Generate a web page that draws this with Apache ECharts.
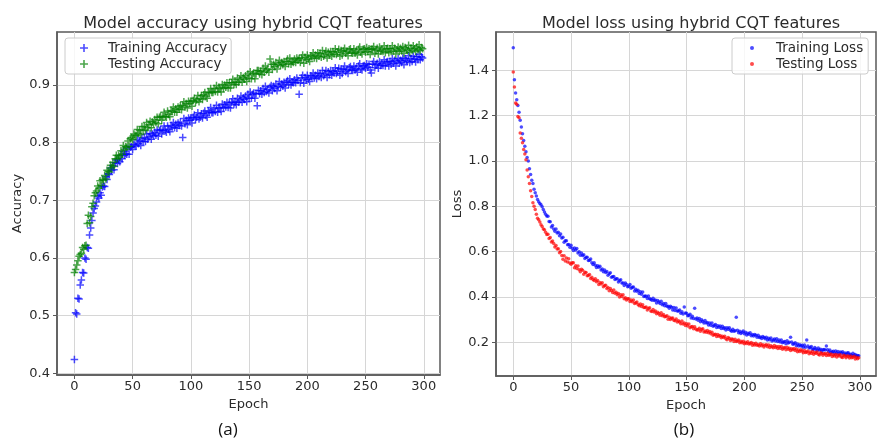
<!DOCTYPE html>
<html>
<head>
<meta charset="utf-8">
<script src="https://cdn.jsdelivr.net/npm/echarts@6/dist/echarts.min.js"></script>
<style>
html, body { margin: 0; padding: 0; background: #fff; }
#chart { width: 877px; height: 440px; }
</style>
</head>
<body>
<div id="chart"></div>
<script>
// values, one per epoch (0..299)
const trainAcc = [
  0.424, 0.505, 0.503, 0.530, 0.529, 0.553, 0.562, 0.575, 0.574, 0.600,
  0.598, 0.618, 0.617, 0.640, 0.652, 0.665, 0.678, 0.686, 0.690, 0.697,
  0.707, 0.704, 0.713, 0.709, 0.723, 0.725, 0.724, 0.741, 0.736, 0.746,
  0.745, 0.756, 0.752, 0.760, 0.753, 0.765, 0.770, 0.764, 0.770, 0.767,
  0.778, 0.772, 0.785, 0.778, 0.781, 0.780, 0.790, 0.780, 0.792, 0.793,
  0.788, 0.797, 0.796, 0.794, 0.805, 0.798, 0.803, 0.795, 0.808, 0.802,
  0.808, 0.802, 0.815, 0.806, 0.810, 0.816, 0.806, 0.815, 0.812, 0.818,
  0.813, 0.822, 0.811, 0.821, 0.823, 0.815, 0.821, 0.829, 0.821, 0.818,
  0.829, 0.823, 0.819, 0.830, 0.827, 0.835, 0.826, 0.832, 0.825, 0.834,
  0.830, 0.836, 0.829, 0.809, 0.842, 0.833, 0.839, 0.831, 0.843, 0.839,
  0.843, 0.834, 0.844, 0.848, 0.840, 0.844, 0.852, 0.841, 0.844, 0.850,
  0.843, 0.851, 0.855, 0.847, 0.844, 0.855, 0.853, 0.861, 0.852, 0.852,
  0.859, 0.854, 0.865, 0.853, 0.861, 0.860, 0.854, 0.867, 0.860, 0.866,
  0.862, 0.870, 0.861, 0.869, 0.860, 0.870, 0.876, 0.867, 0.870, 0.866,
  0.877, 0.870, 0.874, 0.881, 0.870, 0.878, 0.875, 0.881, 0.871, 0.884,
  0.877, 0.888, 0.877, 0.884, 0.886, 0.877, 0.885, 0.864, 0.891, 0.885,
  0.890, 0.884, 0.894, 0.887, 0.898, 0.889, 0.892, 0.886, 0.896, 0.899,
  0.890, 0.898, 0.894, 0.902, 0.890, 0.898, 0.906, 0.896, 0.902, 0.898,
  0.905, 0.895, 0.905, 0.908, 0.901, 0.911, 0.900, 0.905, 0.904, 0.909,
  0.904, 0.912, 0.908, 0.884, 0.904, 0.912, 0.917, 0.903, 0.913, 0.909,
  0.917, 0.910, 0.906, 0.916, 0.914, 0.921, 0.912, 0.917, 0.911, 0.921,
  0.915, 0.920, 0.913, 0.925, 0.916, 0.919, 0.925, 0.913, 0.923, 0.918,
  0.925, 0.917, 0.924, 0.921, 0.930, 0.920, 0.924, 0.929, 0.917, 0.928,
  0.920, 0.927, 0.933, 0.923, 0.926, 0.920, 0.930, 0.932, 0.926, 0.925,
  0.933, 0.926, 0.929, 0.922, 0.933, 0.937, 0.928, 0.926, 0.933, 0.934,
  0.929, 0.937, 0.931, 0.936, 0.926, 0.921, 0.936, 0.941, 0.930, 0.935,
  0.938, 0.929, 0.941, 0.934, 0.937, 0.934, 0.944, 0.933, 0.940, 0.941,
  0.933, 0.941, 0.936, 0.946, 0.938, 0.943, 0.933, 0.941, 0.946, 0.938,
  0.943, 0.939, 0.947, 0.935, 0.946, 0.943, 0.941, 0.951, 0.939, 0.946,
  0.941, 0.950, 0.945, 0.940, 0.949, 0.944, 0.953, 0.944, 0.949, 0.947
]
const testAcc = [
  0.575, 0.580, 0.588, 0.595, 0.603, 0.606, 0.608, 0.618, 0.615, 0.621,
  0.622, 0.660, 0.674, 0.661, 0.672, 0.689, 0.695, 0.708, 0.713, 0.716,
  0.725, 0.721, 0.734, 0.726, 0.736, 0.735, 0.743, 0.737, 0.752, 0.750,
  0.749, 0.761, 0.757, 0.766, 0.759, 0.772, 0.778, 0.772, 0.778, 0.775,
  0.786, 0.780, 0.795, 0.788, 0.793, 0.792, 0.803, 0.794, 0.807, 0.809,
  0.805, 0.815, 0.813, 0.812, 0.823, 0.816, 0.822, 0.814, 0.828, 0.821,
  0.828, 0.822, 0.835, 0.826, 0.831, 0.837, 0.826, 0.836, 0.833, 0.840,
  0.835, 0.844, 0.833, 0.844, 0.846, 0.839, 0.845, 0.853, 0.846, 0.844,
  0.855, 0.849, 0.845, 0.856, 0.854, 0.862, 0.853, 0.859, 0.853, 0.862,
  0.858, 0.864, 0.857, 0.865, 0.871, 0.862, 0.868, 0.860, 0.872, 0.868,
  0.872, 0.863, 0.873, 0.877, 0.870, 0.874, 0.882, 0.871, 0.876, 0.882,
  0.875, 0.883, 0.887, 0.880, 0.877, 0.888, 0.886, 0.894, 0.887, 0.887,
  0.894, 0.889, 0.899, 0.888, 0.896, 0.894, 0.888, 0.901, 0.894, 0.900,
  0.896, 0.904, 0.895, 0.904, 0.895, 0.904, 0.910, 0.901, 0.905, 0.901,
  0.912, 0.905, 0.909, 0.916, 0.905, 0.913, 0.910, 0.916, 0.906, 0.919,
  0.912, 0.923, 0.911, 0.919, 0.921, 0.911, 0.919, 0.925, 0.925, 0.919,
  0.924, 0.918, 0.929, 0.922, 0.933, 0.925, 0.928, 0.922, 0.945, 0.936,
  0.927, 0.936, 0.932, 0.939, 0.928, 0.936, 0.943, 0.934, 0.939, 0.935,
  0.941, 0.932, 0.941, 0.945, 0.937, 0.947, 0.936, 0.941, 0.939, 0.945,
  0.939, 0.947, 0.943, 0.946, 0.939, 0.947, 0.952, 0.938, 0.948, 0.944,
  0.952, 0.945, 0.941, 0.951, 0.949, 0.956, 0.947, 0.952, 0.946, 0.956,
  0.950, 0.955, 0.948, 0.960, 0.950, 0.954, 0.959, 0.947, 0.957, 0.952,
  0.958, 0.950, 0.958, 0.954, 0.963, 0.953, 0.957, 0.962, 0.950, 0.960,
  0.952, 0.959, 0.964, 0.955, 0.958, 0.951, 0.961, 0.963, 0.956, 0.955,
  0.963, 0.955, 0.959, 0.952, 0.962, 0.966, 0.957, 0.954, 0.962, 0.963,
  0.957, 0.965, 0.958, 0.963, 0.953, 0.962, 0.962, 0.967, 0.955, 0.960,
  0.964, 0.954, 0.966, 0.959, 0.961, 0.958, 0.968, 0.956, 0.963, 0.964,
  0.956, 0.963, 0.958, 0.968, 0.959, 0.964, 0.954, 0.961, 0.966, 0.958,
  0.964, 0.959, 0.967, 0.955, 0.965, 0.962, 0.960, 0.969, 0.957, 0.964,
  0.960, 0.968, 0.963, 0.958, 0.966, 0.961, 0.970, 0.960, 0.965, 0.963
]
const trainLoss = [
  1.500, 1.358, 1.300, 1.270, 1.245, 1.215, 1.180, 1.150, 1.120, 1.090,
  1.065, 1.040, 1.015, 1.000, 0.965, 0.940, 0.915, 0.900, 0.875, 0.860,
  0.845, 0.830, 0.820, 0.812, 0.806, 0.798, 0.785, 0.775, 0.765, 0.757,
  0.756, 0.733, 0.731, 0.708, 0.715, 0.700, 0.689, 0.700, 0.682, 0.685,
  0.670, 0.677, 0.660, 0.663, 0.641, 0.648, 0.648, 0.630, 0.631, 0.619,
  0.628, 0.615, 0.604, 0.616, 0.607, 0.613, 0.594, 0.599, 0.584, 0.594,
  0.582, 0.586, 0.569, 0.575, 0.575, 0.560, 0.561, 0.567, 0.550, 0.543,
  0.550, 0.539, 0.530, 0.537, 0.531, 0.535, 0.519, 0.523, 0.511, 0.518,
  0.507, 0.512, 0.495, 0.502, 0.506, 0.487, 0.489, 0.490, 0.476, 0.480,
  0.480, 0.466, 0.472, 0.475, 0.461, 0.461, 0.450, 0.461, 0.455, 0.445,
  0.447, 0.455, 0.438, 0.442, 0.443, 0.426, 0.434, 0.425, 0.429, 0.415,
  0.423, 0.411, 0.421, 0.401, 0.404, 0.403, 0.393, 0.404, 0.392, 0.389,
  0.385, 0.394, 0.384, 0.386, 0.373, 0.384, 0.377, 0.371, 0.380, 0.365,
  0.371, 0.361, 0.371, 0.358, 0.359, 0.350, 0.359, 0.354, 0.342, 0.353,
  0.340, 0.351, 0.337, 0.338, 0.342, 0.328, 0.334, 0.324, 0.355, 0.329,
  0.328, 0.317, 0.318, 0.323, 0.307, 0.314, 0.304, 0.350, 0.302, 0.307,
  0.297, 0.304, 0.290, 0.299, 0.292, 0.285, 0.296, 0.284, 0.287, 0.276,
  0.285, 0.275, 0.285, 0.270, 0.274, 0.278, 0.265, 0.272, 0.266, 0.271,
  0.260, 0.270, 0.260, 0.264, 0.254, 0.264, 0.257, 0.264, 0.252, 0.248,
  0.257, 0.248, 0.250, 0.310, 0.253, 0.241, 0.248, 0.238, 0.244, 0.249,
  0.237, 0.244, 0.232, 0.239, 0.235, 0.242, 0.228, 0.234, 0.227, 0.234,
  0.231, 0.222, 0.231, 0.221, 0.223, 0.216, 0.225, 0.221, 0.215, 0.222,
  0.210, 0.217, 0.211, 0.218, 0.205, 0.210, 0.214, 0.205, 0.215, 0.203,
  0.210, 0.201, 0.209, 0.197, 0.201, 0.203, 0.193, 0.206, 0.196, 0.200,
  0.222, 0.201, 0.191, 0.193, 0.197, 0.184, 0.192, 0.183, 0.189, 0.183,
  0.186, 0.177, 0.187, 0.178, 0.210, 0.183, 0.174, 0.176, 0.181, 0.169,
  0.169, 0.176, 0.170, 0.164, 0.174, 0.165, 0.169, 0.159, 0.166, 0.168,
  0.165, 0.183, 0.166, 0.158, 0.165, 0.154, 0.158, 0.160, 0.151, 0.161,
  0.152, 0.159, 0.149, 0.156, 0.152, 0.158, 0.148, 0.152, 0.145, 0.152,
  0.153, 0.144, 0.147, 0.141, 0.151, 0.142, 0.146, 0.139, 0.141, 0.140
]
const testLoss = [
  1.392, 1.326, 1.256, 1.250, 1.196, 1.190, 1.123, 1.100, 1.080, 1.050,
  1.030, 1.005, 0.960, 0.930, 0.900, 0.868, 0.843, 0.815, 0.800, 0.785,
  0.765, 0.747, 0.740, 0.730, 0.718, 0.710, 0.700, 0.696, 0.685, 0.675,
  0.676, 0.657, 0.662, 0.642, 0.646, 0.635, 0.620, 0.627, 0.611, 0.612,
  0.595, 0.600, 0.582, 0.566, 0.581, 0.558, 0.571, 0.554, 0.568, 0.549,
  0.544, 0.551, 0.550, 0.528, 0.537, 0.525, 0.536, 0.520, 0.511, 0.522,
  0.517, 0.500, 0.508, 0.507, 0.493, 0.494, 0.499, 0.481, 0.487, 0.477,
  0.472, 0.480, 0.467, 0.472, 0.455, 0.463, 0.457, 0.462, 0.445, 0.450,
  0.451, 0.437, 0.441, 0.427, 0.437, 0.428, 0.419, 0.430, 0.416, 0.420,
  0.409, 0.415, 0.399, 0.409, 0.402, 0.409, 0.392, 0.396, 0.386, 0.392,
  0.392, 0.379, 0.386, 0.378, 0.386, 0.371, 0.374, 0.377, 0.366, 0.361,
  0.368, 0.357, 0.365, 0.353, 0.353, 0.355, 0.342, 0.348, 0.352, 0.337,
  0.335, 0.344, 0.333, 0.338, 0.325, 0.332, 0.326, 0.319, 0.330, 0.317,
  0.322, 0.312, 0.313, 0.317, 0.301, 0.310, 0.300, 0.305, 0.307, 0.297,
  0.295, 0.302, 0.289, 0.294, 0.289, 0.281, 0.293, 0.280, 0.285, 0.273,
  0.281, 0.271, 0.280, 0.264, 0.268, 0.269, 0.259, 0.268, 0.258, 0.254,
  0.255, 0.261, 0.248, 0.256, 0.259, 0.245, 0.249, 0.244, 0.251, 0.242,
  0.247, 0.237, 0.244, 0.231, 0.234, 0.235, 0.225, 0.234, 0.226, 0.229,
  0.219, 0.226, 0.221, 0.226, 0.215, 0.211, 0.220, 0.216, 0.207, 0.214,
  0.213, 0.203, 0.213, 0.203, 0.205, 0.209, 0.197, 0.204, 0.197, 0.204,
  0.193, 0.200, 0.194, 0.202, 0.192, 0.194, 0.198, 0.186, 0.194, 0.187,
  0.195, 0.186, 0.188, 0.183, 0.193, 0.184, 0.188, 0.179, 0.186, 0.188,
  0.180, 0.187, 0.176, 0.184, 0.180, 0.175, 0.185, 0.176, 0.181, 0.172,
  0.181, 0.173, 0.181, 0.169, 0.174, 0.176, 0.166, 0.177, 0.169, 0.173,
  0.163, 0.171, 0.167, 0.172, 0.163, 0.170, 0.158, 0.165, 0.159, 0.166,
  0.161, 0.153, 0.163, 0.154, 0.156, 0.161, 0.149, 0.157, 0.151, 0.159,
  0.147, 0.154, 0.151, 0.156, 0.147, 0.143, 0.153, 0.150, 0.142, 0.150,
  0.149, 0.141, 0.151, 0.142, 0.144, 0.148, 0.137, 0.144, 0.139, 0.146,
  0.135, 0.143, 0.139, 0.144, 0.135, 0.132, 0.142, 0.139, 0.131, 0.139,
  0.138, 0.130, 0.139, 0.131, 0.133, 0.138, 0.126, 0.133, 0.127, 0.131
]
const epochTicks = [0, 50, 100, 150, 200, 250, 300]
const accTicks = [0.4, 0.5, 0.6, 0.7, 0.8, 0.9]
const lossTicks = [0.2, 0.4, 0.6, 0.8, 1.0, 1.2, 1.4]

const font = 'DejaVu Sans'
const textColor = '#2b2b2b'
const frameColor = '#5a5a5a'
const plus = 'path://M4,0H6V4H10V6H6V10H4V6H0V4H4Z'

function toPoints (values) {
  return values.map((v, i) => [i, v])
}

function epochAxis (gridIndex) {
  return {
    type: 'value',
    gridIndex: gridIndex,
    min: -14.95,
    max: 313.95,
    name: 'Epoch',
    nameLocation: 'middle',
    nameGap: 19,
    nameTextStyle: { fontFamily: font, fontSize: 13, color: textColor },
    axisLine: { show: true, onZero: false, lineStyle: { color: frameColor, width: 1.5 } },
    axisTick: { customValues: epochTicks, length: 4, lineStyle: { color: frameColor } },
    axisLabel: { customValues: epochTicks, margin: 5, fontFamily: font, fontSize: 13, color: textColor },
    splitLine: { show: true, lineStyle: { color: '#d6d6d6', width: 1 } }
  }
}

function valueAxis (gridIndex, name, min, max, ticks, nameGap) {
  return {
    type: 'value',
    gridIndex: gridIndex,
    min: min,
    max: max,
    name: name,
    nameLocation: 'middle',
    nameGap: nameGap,
    nameTextStyle: { fontFamily: font, fontSize: 13, color: textColor },
    axisLine: { show: true, onZero: false, lineStyle: { color: frameColor, width: 1.5 } },
    axisTick: { customValues: ticks, length: 4, lineStyle: { color: frameColor } },
    axisLabel: {
      customValues: ticks,
      margin: 7,
      fontFamily: font,
      fontSize: 13,
      color: textColor,
      formatter: function (value) {
        return value.toFixed(1)
      }
    },
    splitLine: { show: true, lineStyle: { color: '#d6d6d6', width: 1 } }
  }
}

echarts.init(document.getElementById('chart')).setOption({
  animation: false,
  backgroundColor: '#fff',
  title: [
    { text: 'Model accuracy using hybrid CQT features', left: 248, top: 11, textAlign: 'center', textStyle: { fontFamily: font, fontSize: 16, fontWeight: 'normal', color: textColor } },
    { text: 'Model loss using hybrid CQT features', left: 686, top: 11, textAlign: 'center', textStyle: { fontFamily: font, fontSize: 16, fontWeight: 'normal', color: textColor } },
    { text: '(a)', left: 223, top: 417, textAlign: 'center', textStyle: { fontFamily: 'Open Sans', fontSize: 17, fontWeight: 'normal', color: '#111' } },
    { text: '(b)', left: 679, top: 417, textAlign: 'center', textStyle: { fontFamily: 'Open Sans', fontSize: 17, fontWeight: 'normal', color: '#111' } }
  ],
  legend: [
    {
      data: ['Training Accuracy', 'Testing Accuracy'],
      orient: 'vertical',
      left: 65,
      top: 38,
      padding: [3, 4, 3, 15],
      itemWidth: 38,
      itemHeight: 8,
      itemGap: 2,
      icon: plus,
      borderColor: '#cccccc',
      borderWidth: 1,
      borderRadius: 3,
      backgroundColor: 'rgba(255,255,255,0.8)',
      textStyle: { fontFamily: font, fontSize: 13.5, color: textColor }
    },
    {
      data: ['Training Loss', 'Testing Loss'],
      orient: 'vertical',
      left: 732,
      top: 38,
      padding: [3, 5, 3, 18],
      itemWidth: 38,
      itemHeight: 4,
      itemGap: 2,
      icon: 'circle',
      borderColor: '#cccccc',
      borderWidth: 1,
      borderRadius: 3,
      backgroundColor: 'rgba(255,255,255,0.8)',
      textStyle: { fontFamily: font, fontSize: 13.5, color: textColor }
    }
  ],
  grid: [
    { left: 57, top: 32, width: 383, height: 343, show: true, borderColor: frameColor, borderWidth: 1.5 },
    { left: 496, top: 32, width: 380, height: 344, show: true, borderColor: frameColor, borderWidth: 1.5 }
  ],
  xAxis: [epochAxis(0), epochAxis(1)],
  yAxis: [
    valueAxis(0, 'Accuracy', 0.397, 0.992, accTicks, 33),
    valueAxis(1, 'Loss', 0.0506, 1.569, lossTicks, 31)
  ],
  series: [
    { name: 'Training Accuracy', type: 'scatter', xAxisIndex: 0, yAxisIndex: 0, symbol: plus, symbolSize: 7.5, itemStyle: { color: '#0000ff', opacity: 0.7 }, data: toPoints(trainAcc) },
    { name: 'Testing Accuracy', type: 'scatter', xAxisIndex: 0, yAxisIndex: 0, symbol: plus, symbolSize: 7.5, itemStyle: { color: '#008000', opacity: 0.7 }, data: toPoints(testAcc) },
    { name: 'Training Loss', type: 'scatter', xAxisIndex: 1, yAxisIndex: 1, symbol: 'circle', symbolSize: 3.5, itemStyle: { color: '#0000ff', opacity: 0.7 }, data: toPoints(trainLoss) },
    { name: 'Testing Loss', type: 'scatter', xAxisIndex: 1, yAxisIndex: 1, symbol: 'circle', symbolSize: 3.5, itemStyle: { color: '#ff0000', opacity: 0.7 }, data: toPoints(testLoss) }
  ]
})
</script>
</body>
</html>
